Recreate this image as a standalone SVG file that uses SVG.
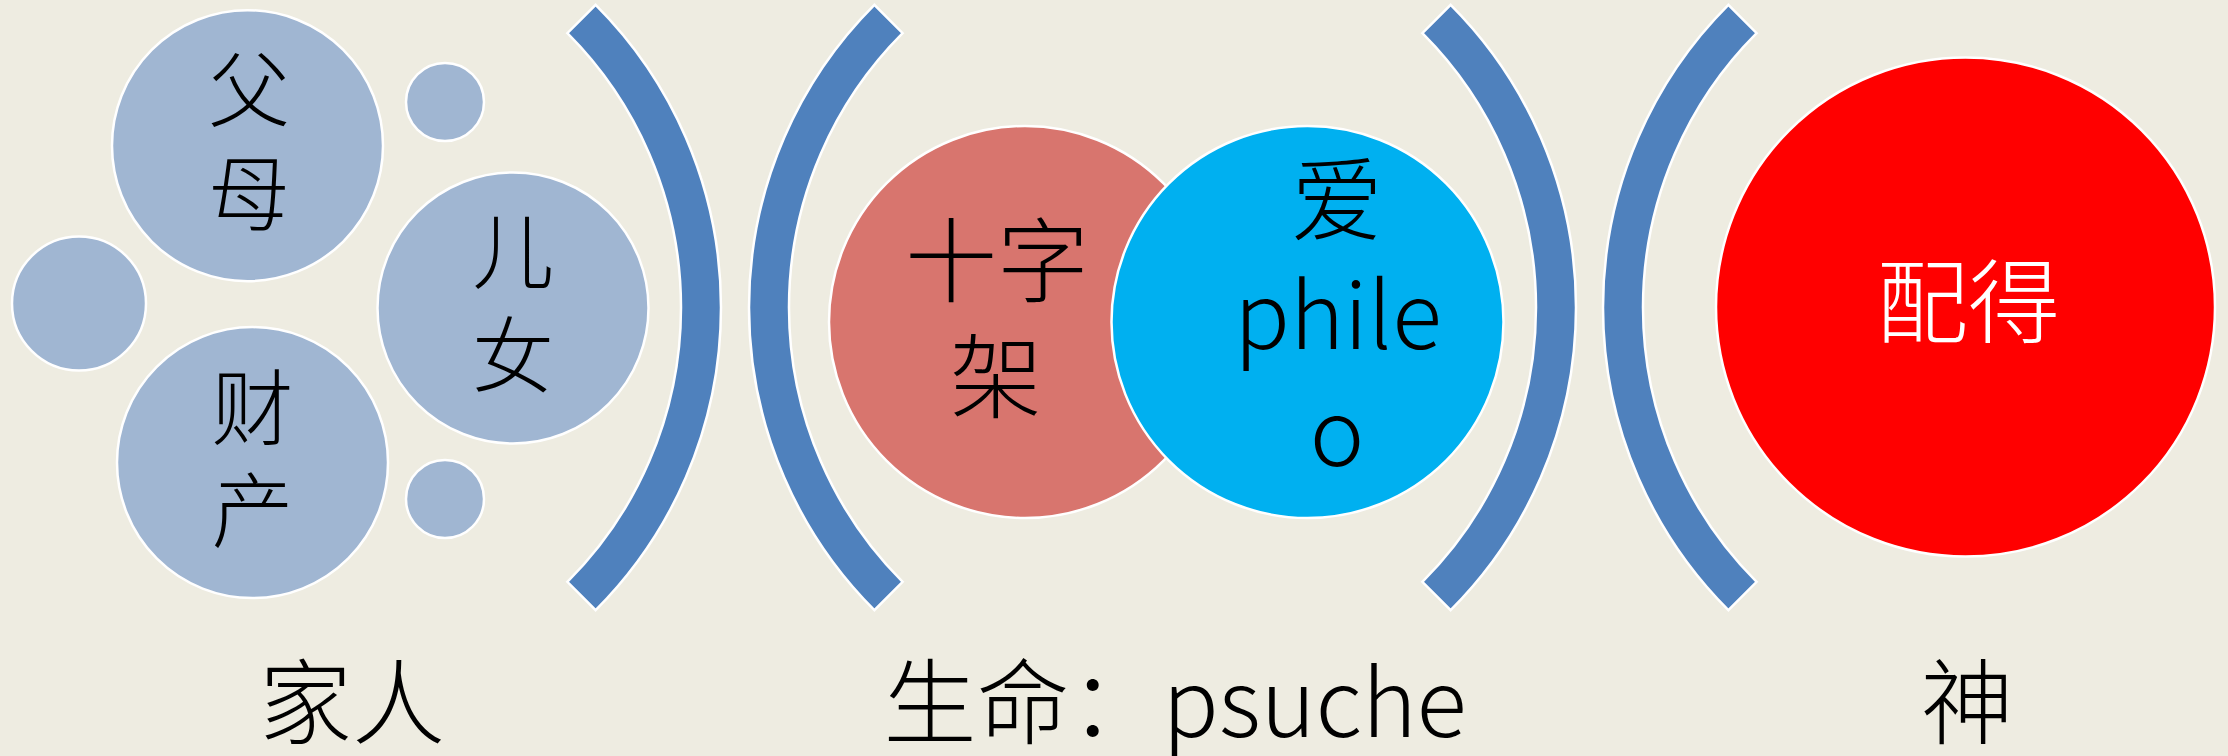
<svg xmlns="http://www.w3.org/2000/svg" width="2228" height="756" viewBox="0 0 2228 756">
<style>
.bg{fill:#EEECE1}
.c{stroke:#FFFFFF;stroke-width:2.5}
.lb{fill:#A0B6D2}
.br{fill:#4F81BD;stroke:#FFFFFF;stroke-width:2.5;stroke-linejoin:miter}
.t{font-family:"Noto Sans CJK SC","Noto Sans",sans-serif;font-weight:300;text-anchor:middle;fill:#000000}
.s82{font-size:82px}
.s92{font-size:92px}
.s93{font-size:93px}
</style>
<rect class="bg" x="0" y="0" width="2228" height="756"/>
<g id="brackets">
<path class="br" d="M 595.64 4.86 A 428 428 0 0 1 595.64 610.14 L 567.36 581.86 A 388 388 0 0 0 567.36 33.14 Z"/>
<path class="br" d="M 874.36 4.86 A 428 428 0 0 0 874.36 610.14 L 902.64 581.86 A 388 388 0 0 1 902.64 33.14 Z"/>
<path class="br" d="M 1450.64 4.86 A 428 428 0 0 1 1450.64 610.14 L 1422.36 581.86 A 388 388 0 0 0 1422.36 33.14 Z"/>
<path class="br" d="M 1728.36 4.86 A 428 428 0 0 0 1728.36 610.14 L 1756.64 581.86 A 388 388 0 0 1 1756.64 33.14 Z"/>
</g>
<g id="small-top"><circle class="c lb" cx="445" cy="102" r="39"/></g>
<g id="small-bottom"><circle class="c lb" cx="445" cy="499" r="39"/></g>
<g id="left-mid"><circle class="c lb" cx="79" cy="303.5" r="67"/></g>
<g id="fumu">
<circle class="c lb" cx="247.5" cy="145.7" r="135.5"/>
<text class="t s82" x="249" y="120">父</text>
<text class="t s82" x="249" y="224">母</text>
</g>
<g id="ernv">
<circle class="c lb" cx="513" cy="308" r="135.5"/>
<text class="t s82" x="513" y="282">儿</text>
<text class="t s82" x="513" y="386">女</text>
</g>
<g id="caichan">
<circle class="c lb" cx="252.5" cy="462.6" r="135.5"/>
<text class="t s82" x="252.5" y="438">财</text>
<text class="t s82" x="252.5" y="541">产</text>
</g>
<g id="shizijia">
<circle class="c" fill="#D8756E" cx="1025" cy="322" r="196"/>
<text class="t s92" x="997" y="295">十字</text>
<text class="t s92" x="996" y="411">架</text>
</g>
<g id="phileo">
<circle class="c" fill="#00B0F0" cx="1307.5" cy="322" r="196"/>
<text class="t s92" x="1337" y="234">爱</text>
<text class="t s92" x="1338" y="349">phile</text>
<text class="t s92" x="1337" y="466">o</text>
</g>
<g id="peide">
<circle class="c" fill="#FF0000" cx="1965.5" cy="307" r="249.5"/>
<text class="t s92" x="1968" y="336" style="fill:#FFFFFF">配得</text>
</g>
<g id="label-jiaren"><text class="t s93" x="352" y="737">家人</text></g>
<g id="label-shengming"><text class="t s93" x="1175" y="737">生命：psuche</text></g>
<g id="label-shen"><text class="t s93" x="1967" y="737">神</text></g>
</svg>
